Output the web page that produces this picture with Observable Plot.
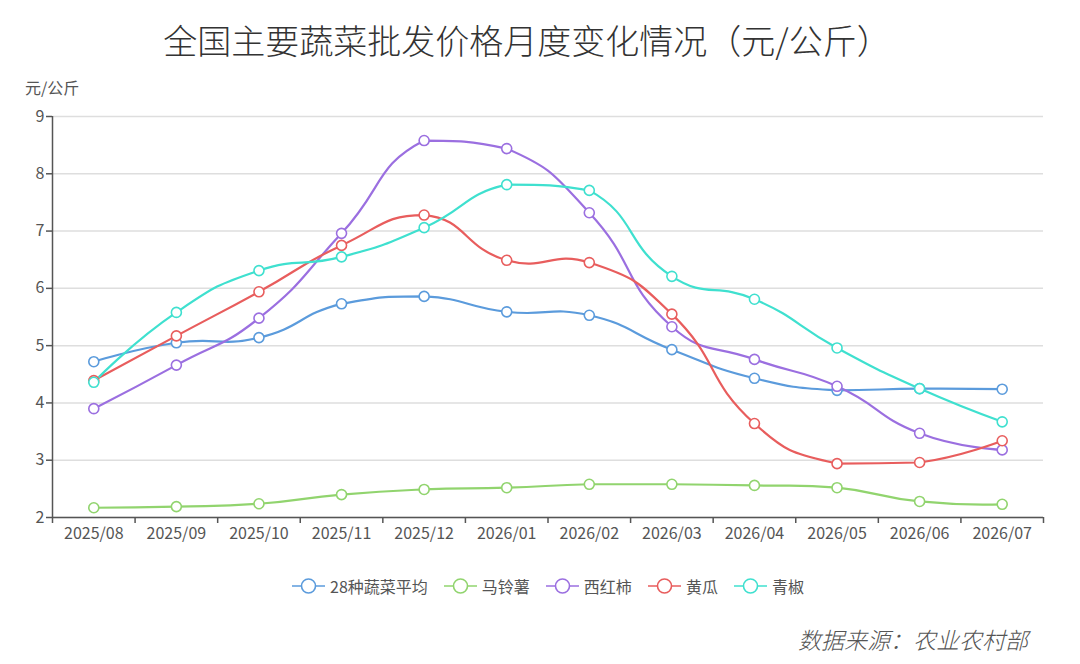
<!DOCTYPE html>
<html>
<head>
<meta charset="utf-8">
<script src="https://cdn.jsdelivr.net/npm/d3@7"></script>
<script src="https://cdn.jsdelivr.net/npm/@observablehq/plot@0.6"></script>
<style>
  html, body { margin: 0; padding: 0; background: #fff; }
  body { width: 1080px; height: 664px; position: relative; overflow: hidden;
         font-family: "Noto Sans CJK SC", "Noto Sans", sans-serif; }
  #title { position: absolute; top: 15px; left: 0; width: 1054px; text-align: center;
           font-size: 34px; font-weight: 300; color: #333; line-height: 50px; }
  #chart { position: absolute; left: 0; top: 70px; }
  #ylabel { position: absolute; left: 25px; top: 76px; font-size: 16px; color: #555; z-index: 2; line-height: 22px; }
  #legend { position: absolute; top: 574px; left: 0; width: 1096px; display: flex;
            justify-content: center; gap: 16px; font-size: 16px; color: #555; line-height: 24px; }
  .item { display: flex; align-items: center; gap: 5px; }
  #source { position: absolute; right: 52px; top: 622px; font-size: 23px; font-style: italic;
            color: #555; font-weight: 300; line-height: 34px; }
</style>
</head>
<body>
<div id="title">全国主要蔬菜批发价格月度变化情况（元/公斤）</div>
<div id="chart"></div>
<div id="ylabel">元/公斤</div>
<div id="legend"></div>
<div id="source">数据来源：农业农村部</div>
<script>
const months = ["2025/08","2025/09","2025/10","2025/11","2025/12","2026/01","2026/02","2026/03","2026/04","2026/05","2026/06","2026/07"];
const seriesNames = ["28种蔬菜平均","马铃薯","西红柿","黄瓜","青椒"];
const avg28   = [4.72, 5.05, 5.14, 5.73, 5.86, 5.59, 5.53, 4.93, 4.43, 4.22, 4.25, 4.24];
const potato  = [2.17, 2.19, 2.24, 2.40, 2.49, 2.52, 2.58, 2.58, 2.56, 2.52, 2.28, 2.23];
const tomato  = [3.90, 4.66, 5.48, 6.96, 8.58, 8.44, 7.32, 5.33, 4.76, 4.29, 3.47, 3.18];
const cucumber= [4.39, 5.17, 5.94, 6.75, 7.28, 6.49, 6.45, 5.55, 3.64, 2.94, 2.96, 3.34];
const pepper  = [4.36, 5.58, 6.31, 6.55, 7.06, 7.81, 7.71, 6.21, 5.81, 4.96, 4.25, 3.67];
const yTicks = [2, 3, 4, 5, 6, 7, 8, 9];
const colors = ["#5b9bdc", "#91d46e", "#9b6fe0", "#e85d5d", "#3fe0cf"];

const seriesValues = [avg28, potato, tomato, cucumber, pepper];
const data = seriesNames.flatMap((s, k) => seriesValues[k].map((v, i) => ({series: s, i, v})));
const idx = d3.range(months.length);
const bounds = d3.range(months.length + 1).map(i => i - 0.5);

// Smooth curve in the style of a bounded cardinal spline (smooth = 0.5, clamped to the line's extent)
function SmoothCurve(context) { this._context = context; }
SmoothCurve.prototype = {
  areaStart() { this._line = 0; },
  areaEnd() { this._line = NaN; },
  lineStart() { this._pts = []; },
  point(x, y) { this._pts.push([+x, +y]); },
  lineEnd() {
    const p = this._pts, n = p.length, ctx = this._context, s = 0.5;
    if (!n) return;
    const minX = d3.min(p, d => d[0]), maxX = d3.max(p, d => d[0]);
    const minY = d3.min(p, d => d[1]), maxY = d3.max(p, d => d[1]);
    const clamp = c => [Math.max(minX, Math.min(maxX, c[0])), Math.max(minY, Math.min(maxY, c[1]))];
    ctx.moveTo(p[0][0], p[0][1]);
    let cp0 = p[0].slice(), v = [0, 0];
    for (let i = 1; i < n; i++) {
      const prev = p[i - 1], cur = p[i], next = p[i + 1];
      let cp1, ratio = 0.5;
      if (!next) { cp1 = cur.slice(); }
      else {
        v = [next[0] - prev[0], next[1] - prev[1]];
        const lp = Math.hypot(cur[0] - prev[0], cur[1] - prev[1]);
        const ln = Math.hypot(next[0] - cur[0], next[1] - cur[1]);
        ratio = ln / (ln + lp);
        cp1 = [cur[0] - v[0] * s * (1 - ratio), cur[1] - v[1] * s * (1 - ratio)];
      }
      const a = clamp(cp0), b = clamp(cp1);
      ctx.bezierCurveTo(a[0], a[1], b[0], b[1], cur[0], cur[1]);
      cp0 = [cur[0] + v[0] * s * ratio, cur[1] + v[1] * s * ratio];
    }
  }
};
const curveSmooth = context => new SmoothCurve(context);

const chart = Plot.plot({
  width: 1080, height: 480,
  marginLeft: 52, marginRight: 37, marginTop: 46, marginBottom: 33,
  style: {fontFamily: '"Noto Sans CJK SC", "Noto Sans", sans-serif', fontSize: "16px", color: "#555", background: "white"},
  x: {domain: [-0.5, months.length - 0.5], axis: null},
  y: {domain: [d3.min(yTicks), d3.max(yTicks)], axis: null},
  color: {domain: seriesNames, range: colors},
  marks: [
    Plot.gridY(yTicks, {stroke: "#dedede", strokeOpacity: 1, strokeWidth: 1.5}),
    Plot.axisY({ticks: yTicks, tickSize: 6, tickPadding: 2, tickFormat: d3.format("d"), label: null, stroke: "#555", strokeWidth: 1.5, fill: "#555"}),
    Plot.ruleX([-0.5], {stroke: "#555", strokeWidth: 1.5}),
    Plot.ruleY([d3.min(yTicks)], {stroke: "#555", strokeWidth: 1.5}),
    Plot.axisX({ticks: bounds, tickSize: 6, tickFormat: () => "", label: null, stroke: "#555", strokeWidth: 1.5}),
    Plot.axisX({ticks: idx, tickSize: 0, tickPadding: 10, tickFormat: i => months[i], label: null, fill: "#555"}),
    Plot.line(data, {x: "i", y: "v", z: "series", stroke: "series", strokeWidth: 2.2, curve: curveSmooth}),
    Plot.dot(data, {x: "i", y: "v", stroke: "series", fill: "white", r: 5, strokeWidth: 1.6})
  ]
});
document.getElementById("chart").appendChild(chart);

const legend = d3.select("#legend");
seriesNames.forEach((s, k) => {
  const it = legend.append("div").attr("class", "item");
  const svg = it.append("svg").attr("width", 33).attr("height", 18);
  svg.append("line").attr("x1", 0).attr("x2", 33).attr("y1", 9).attr("y2", 9)
     .attr("stroke", colors[k]).attr("stroke-width", 1.6);
  svg.append("circle").attr("cx", 16.5).attr("cy", 9).attr("r", 7)
     .attr("fill", "white").attr("stroke", colors[k]).attr("stroke-width", 1.6);
  it.append("span").text(s);
});
</script>
</body>
</html>
